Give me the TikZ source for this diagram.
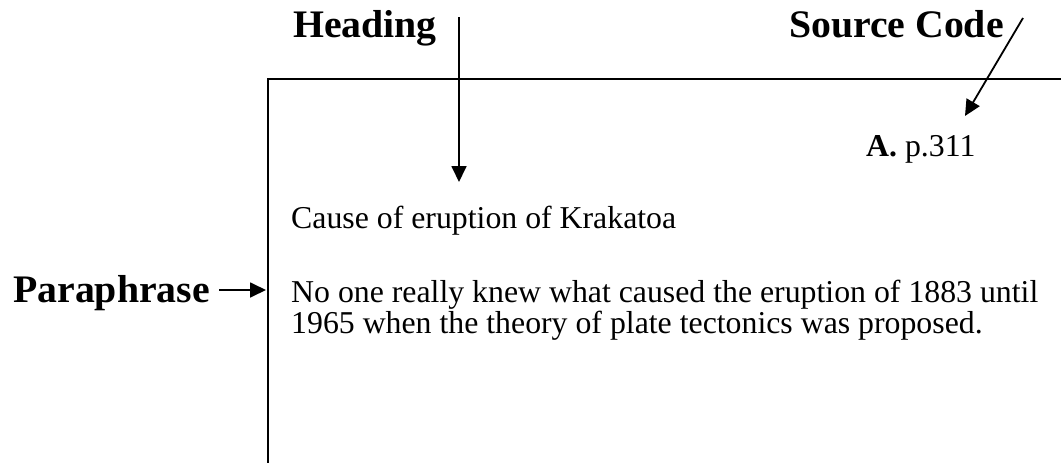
\documentclass[tikz,border=0pt]{standalone}
\usepackage{fontspec}
\setmainfont{Liberation Serif}
\newfontfamily\lblfont[FakeStretch=1.02]{Liberation Serif}
\usetikzlibrary{arrows.meta}
\tikzset{
  lbl/.style={inner sep=0pt, font=\lblfont\bfseries\fontsize{39}{40}\selectfont},
  txt/.style={inner sep=0pt, anchor=base west, font=\fontsize{31.8}{30}\selectfont},
  pointer/.style={line width=1.8pt, -{Triangle[length=16pt,width=15pt]}},
  card/.style={line width=1.8pt}
}
\begin{document}
\begin{tikzpicture}[x=1pt,y=1pt]
\useasboundingbox (0,0) rectangle (1061,-463);
% card outline
\coordinate (cbl) at (268,-480);
\coordinate (ctl) at (268,-79);
\coordinate (ctr) at (1080,-79);
\draw[card] (cbl) -- (ctl) -- (ctr);
% labels
\node[lbl, anchor=base east] (heading) at (437,-37) {Heading};
\node[lbl, anchor=base east] (source) at (1004,-37) {Source Code};
\node[lbl, anchor=base west] (para) at (13,-302) {Paraphrase};
% card texts
\node[txt] (ref) at (866,-156) {\textbf{A.} p.311};
\node[txt] (title) at (291,-228) {Cause of eruption of Krakatoa};
\node[txt] (body1) at (291,-302) {No one really knew what caused the eruption of 1883 until};
\node[txt] (body2) at (291,-333) {1965 when the theory of plate tectonics was proposed.};
% arrows
\coordinate (h1) at (459,-17);
\coordinate (h2) at (459,-182);
\draw[pointer] (h1) -- (h2);
\coordinate (s1) at (1023,-18);
\coordinate (s2) at (965,-116);
\draw[pointer] (s1) -- (s2);
\coordinate (p1) at (219,-290);
\coordinate (p2) at (266,-290);
\draw[pointer] (p1) -- (p2);
\end{tikzpicture}
\end{document}
